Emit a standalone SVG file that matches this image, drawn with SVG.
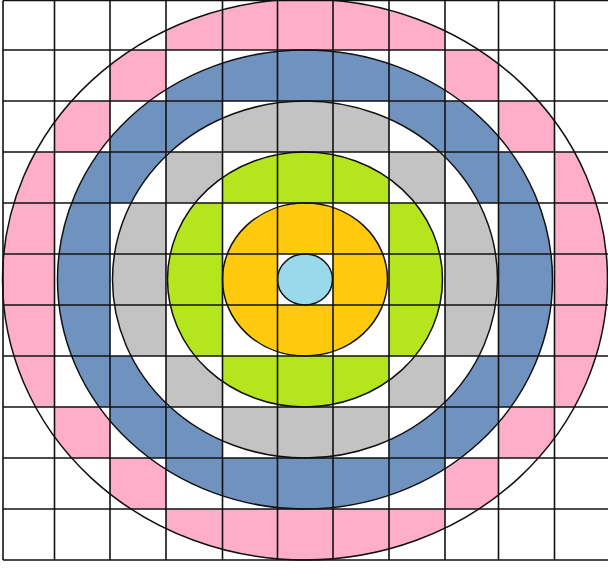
<svg xmlns="http://www.w3.org/2000/svg" width="608" height="568" viewBox="0 0 608 568">
<style>
.grid line{stroke:#111;stroke-width:1.6}
.ring{fill:none;stroke:#111;stroke-width:1.5}
.r0{fill:#99d9ea}.r1{fill:#ffc90e}.r2{fill:#b5e61d}.r3{fill:#c3c3c3}.r4{fill:#7092be}.r5{fill:#ffaec9}
</style>
<defs>
<clipPath id="a1"><path clip-rule="evenodd" d="M222.5 279.5A82.5 76.5 0 1 0 387.5 279.5A82.5 76.5 0 1 0 222.5 279.5ZM277.5 279.5A27.5 25.5 0 1 0 332.5 279.5A27.5 25.5 0 1 0 277.5 279.5Z"/></clipPath>
<clipPath id="a2"><path clip-rule="evenodd" d="M167.5 279.5A137.5 127.5 0 1 0 442.5 279.5A137.5 127.5 0 1 0 167.5 279.5ZM222.5 279.5A82.5 76.5 0 1 0 387.5 279.5A82.5 76.5 0 1 0 222.5 279.5Z"/></clipPath>
<clipPath id="a3"><path clip-rule="evenodd" d="M112.5 279.5A192.5 178.5 0 1 0 497.5 279.5A192.5 178.5 0 1 0 112.5 279.5ZM167.5 279.5A137.5 127.5 0 1 0 442.5 279.5A137.5 127.5 0 1 0 167.5 279.5Z"/></clipPath>
<clipPath id="a4"><path clip-rule="evenodd" d="M57.5 279.5A247.5 229.5 0 1 0 552.5 279.5A247.5 229.5 0 1 0 57.5 279.5ZM112.5 279.5A192.5 178.5 0 1 0 497.5 279.5A192.5 178.5 0 1 0 112.5 279.5Z"/></clipPath>
<clipPath id="a5"><path clip-rule="evenodd" d="M2.5 279.5A302.5 280.5 0 1 0 607.5 279.5A302.5 280.5 0 1 0 2.5 279.5ZM57.5 279.5A247.5 229.5 0 1 0 552.5 279.5A247.5 229.5 0 1 0 57.5 279.5Z"/></clipPath>
</defs>
<rect width="608" height="568" fill="#fff"/>
<g id="fills">
<ellipse class="r0" cx="305" cy="279.5" rx="27.5" ry="25.5"/>
<g class="r1" clip-path="url(#a1)">
<rect x="222.5" y="203" width="166.5" height="51"/>
<rect x="222.5" y="305" width="166.5" height="51"/>
<rect x="222.5" y="254" width="55" height="51"/>
<rect x="333" y="254" width="56" height="51"/>
</g>
<g class="r2" clip-path="url(#a2)">
<rect x="166" y="203" width="56.5" height="153"/>
<rect x="389" y="203" width="56" height="153"/>
<rect x="222.5" y="152" width="166.5" height="51"/>
<rect x="222.5" y="356" width="166.5" height="51"/>
</g>
<g class="r3" clip-path="url(#a3)">
<rect x="110" y="203" width="56" height="153"/>
<rect x="445" y="203" width="53.5" height="153"/>
<rect x="222.5" y="101" width="166.5" height="51"/>
<rect x="222.5" y="407" width="166.5" height="51"/>
<rect x="166" y="152" width="56.5" height="51"/>
<rect x="389" y="152" width="56" height="51"/>
<rect x="166" y="356" width="56.5" height="51"/>
<rect x="389" y="356" width="56" height="51"/>
</g>
<g class="r4" clip-path="url(#a4)">
<rect x="54.5" y="152" width="55.5" height="255"/>
<rect x="498.5" y="152" width="56" height="255"/>
<rect x="166" y="50" width="279" height="51"/>
<rect x="166" y="458" width="279" height="51"/>
<rect x="110" y="101" width="112.5" height="51"/>
<rect x="389" y="101" width="109.5" height="51"/>
<rect x="110" y="407" width="112.5" height="51"/>
<rect x="389" y="407" width="109.5" height="51"/>
<rect x="110" y="152" width="56" height="51"/>
<rect x="445" y="152" width="53.5" height="51"/>
<rect x="110" y="356" width="56" height="51"/>
<rect x="445" y="356" width="53.5" height="51"/>
</g>
<g class="r5" clip-path="url(#a5)">
<rect x="3" y="152" width="51.5" height="255"/>
<rect x="554.5" y="152" width="53.5" height="255"/>
<rect x="166" y="0" width="279" height="50"/>
<rect x="166" y="509" width="279" height="51"/>
<rect x="54.5" y="101" width="55.5" height="51"/>
<rect x="498.5" y="101" width="56" height="51"/>
<rect x="54.5" y="407" width="55.5" height="51"/>
<rect x="498.5" y="407" width="56" height="51"/>
<rect x="110" y="50" width="56" height="51"/>
<rect x="445" y="50" width="53.5" height="51"/>
<rect x="110" y="458" width="56" height="51"/>
<rect x="445" y="458" width="53.5" height="51"/>
</g>
</g>
<g id="grid" class="grid">
<line x1="3" y1="0.5" x2="3" y2="560"/>
<line x1="54.5" y1="0.5" x2="54.5" y2="560"/>
<line x1="110" y1="0.5" x2="110" y2="560"/>
<line x1="166" y1="0.5" x2="166" y2="560"/>
<line x1="222.5" y1="0.5" x2="222.5" y2="560"/>
<line x1="277.5" y1="0.5" x2="277.5" y2="560"/>
<line x1="333" y1="0.5" x2="333" y2="560"/>
<line x1="389" y1="0.5" x2="389" y2="560"/>
<line x1="445" y1="0.5" x2="445" y2="560"/>
<line x1="498.5" y1="0.5" x2="498.5" y2="560"/>
<line x1="554.5" y1="0.5" x2="554.5" y2="560"/>
<line x1="3" y1="0.5" x2="608" y2="0.5"/>
<line x1="3" y1="50" x2="608" y2="50"/>
<line x1="3" y1="101" x2="608" y2="101"/>
<line x1="3" y1="152" x2="608" y2="152"/>
<line x1="3" y1="203" x2="608" y2="203"/>
<line x1="3" y1="254" x2="608" y2="254"/>
<line x1="3" y1="305" x2="608" y2="305"/>
<line x1="3" y1="356" x2="608" y2="356"/>
<line x1="3" y1="407" x2="608" y2="407"/>
<line x1="3" y1="458" x2="608" y2="458"/>
<line x1="3" y1="509" x2="608" y2="509"/>
<line x1="3" y1="560" x2="608" y2="560"/>
</g>
<g id="rings">
<ellipse class="ring" cx="305" cy="279.5" rx="27.5" ry="25.5"/>
<ellipse class="ring" cx="305" cy="279.5" rx="82.5" ry="76.5"/>
<ellipse class="ring" cx="305" cy="279.5" rx="137.5" ry="127.5"/>
<ellipse class="ring" cx="305" cy="279.5" rx="192.5" ry="178.5"/>
<ellipse class="ring" cx="305" cy="279.5" rx="247.5" ry="229.5"/>
<ellipse class="ring" cx="305" cy="279.5" rx="302.5" ry="280.5"/>
</g>
</svg>
